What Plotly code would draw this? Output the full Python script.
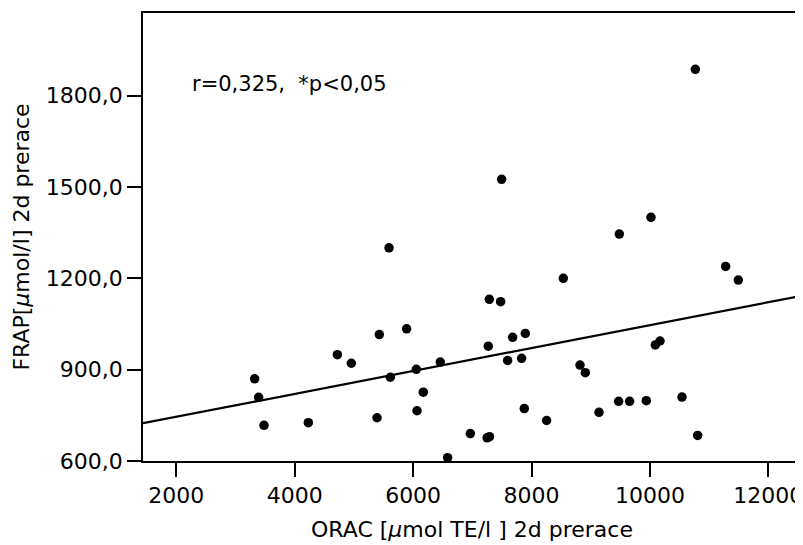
import plotly.graph_objects as go

# ORAC [µmol TE/l] values (x) and FRAP [µmol/l] values (y)
orac = [10767, 7495, 10018, 9483, 8537, 11279, 11493, 7287, 7478, 7270,
        7681, 7895, 7596, 7833, 8819, 8909, 10091, 10171, 7878, 8255,
        9140, 9471, 9657, 9939, 10542, 10806, 6966, 7250, 7290,
        5593, 5429, 5890, 4720, 4956, 3323, 3390, 3481, 4230, 5615,
        6054, 6459, 6172, 6066, 5390, 6583]
frap = [1886, 1525, 1400, 1345, 1200, 1239, 1194, 1131, 1123, 977,
        1006, 1019, 930, 937, 915, 890, 981, 994, 772, 733,
        760, 796, 796, 798, 810, 684, 690, 676, 680,
        1300, 1015, 1034, 949, 921, 870, 809, 717, 726, 875,
        901, 925, 826, 765, 742, 611]

# regression line
fit_intercept = 670.0
fit_slope = 0.0376

x_range = [1437, 12552]
y_range = [600, 2071]

x_tickvals = [2000, 4000, 6000, 8000, 10000, 12000]
x_ticktext = ["2000", "4000", "6000", "8000", "10000", "12000"]
y_tickvals = [600, 900, 1200, 1500, 1800]
y_ticktext = ["600,0", "900,0", "1200,0", "1500,0", "1800,0"]

annotation_text = "r=0,325,  *p<0,05"
x_title = "ORAC [<i>\u03bc</i>mol TE/l ] 2d prerace"
y_title = "FRAP[<i>\u03bc</i>mol/l] 2d prerace"

FONT = "DejaVu Sans"

fig = go.Figure()
fig.add_trace(go.Scatter(
    x=x_range,
    y=[fit_intercept + fit_slope * v for v in x_range],
    mode="lines",
    line=dict(color="black", width=2.2),
    hoverinfo="skip",
    showlegend=False,
))
fig.add_trace(go.Scatter(
    x=orac, y=frap, mode="markers",
    marker=dict(color="black", size=9.5, line=dict(width=0)),
    cliponaxis=False,
    showlegend=False,
))

fig.add_annotation(
    x=0.072, y=0.841, xref="paper", yref="paper",
    text=annotation_text, showarrow=False,
    xanchor="left", yanchor="middle",
    font=dict(family=FONT, size=21, color="black"),
)

axis_common = dict(
    showgrid=False, zeroline=False, automargin=False,
    showline=True, linecolor="black", linewidth=1.5, mirror=True,
    ticks="outside", ticklen=14, tickwidth=2, tickcolor="black",
    tickfont=dict(family=FONT, size=22, color="black"),
    ticklabeloverflow="allow",
)

fig.update_xaxes(
    range=x_range, tickvals=x_tickvals, ticktext=x_ticktext,
    title=dict(text=x_title, font=dict(family=FONT, size=22, color="black"), standoff=14),
    **axis_common,
)
fig.update_yaxes(
    range=y_range, tickvals=y_tickvals, ticktext=y_ticktext,
    title=dict(text=y_title, font=dict(family=FONT, size=22, color="black"), standoff=10),
    **axis_common,
)

# the page body adds an 8 px offset, so the figure is sized to fit the rest of the window
fig.update_layout(
    width=795, height=537,
    margin=dict(l=135, r=2, t=5, b=84),
    paper_bgcolor="white", plot_bgcolor="white",
    font=dict(family=FONT, color="black"),
)

fig.write_html("out.html")
